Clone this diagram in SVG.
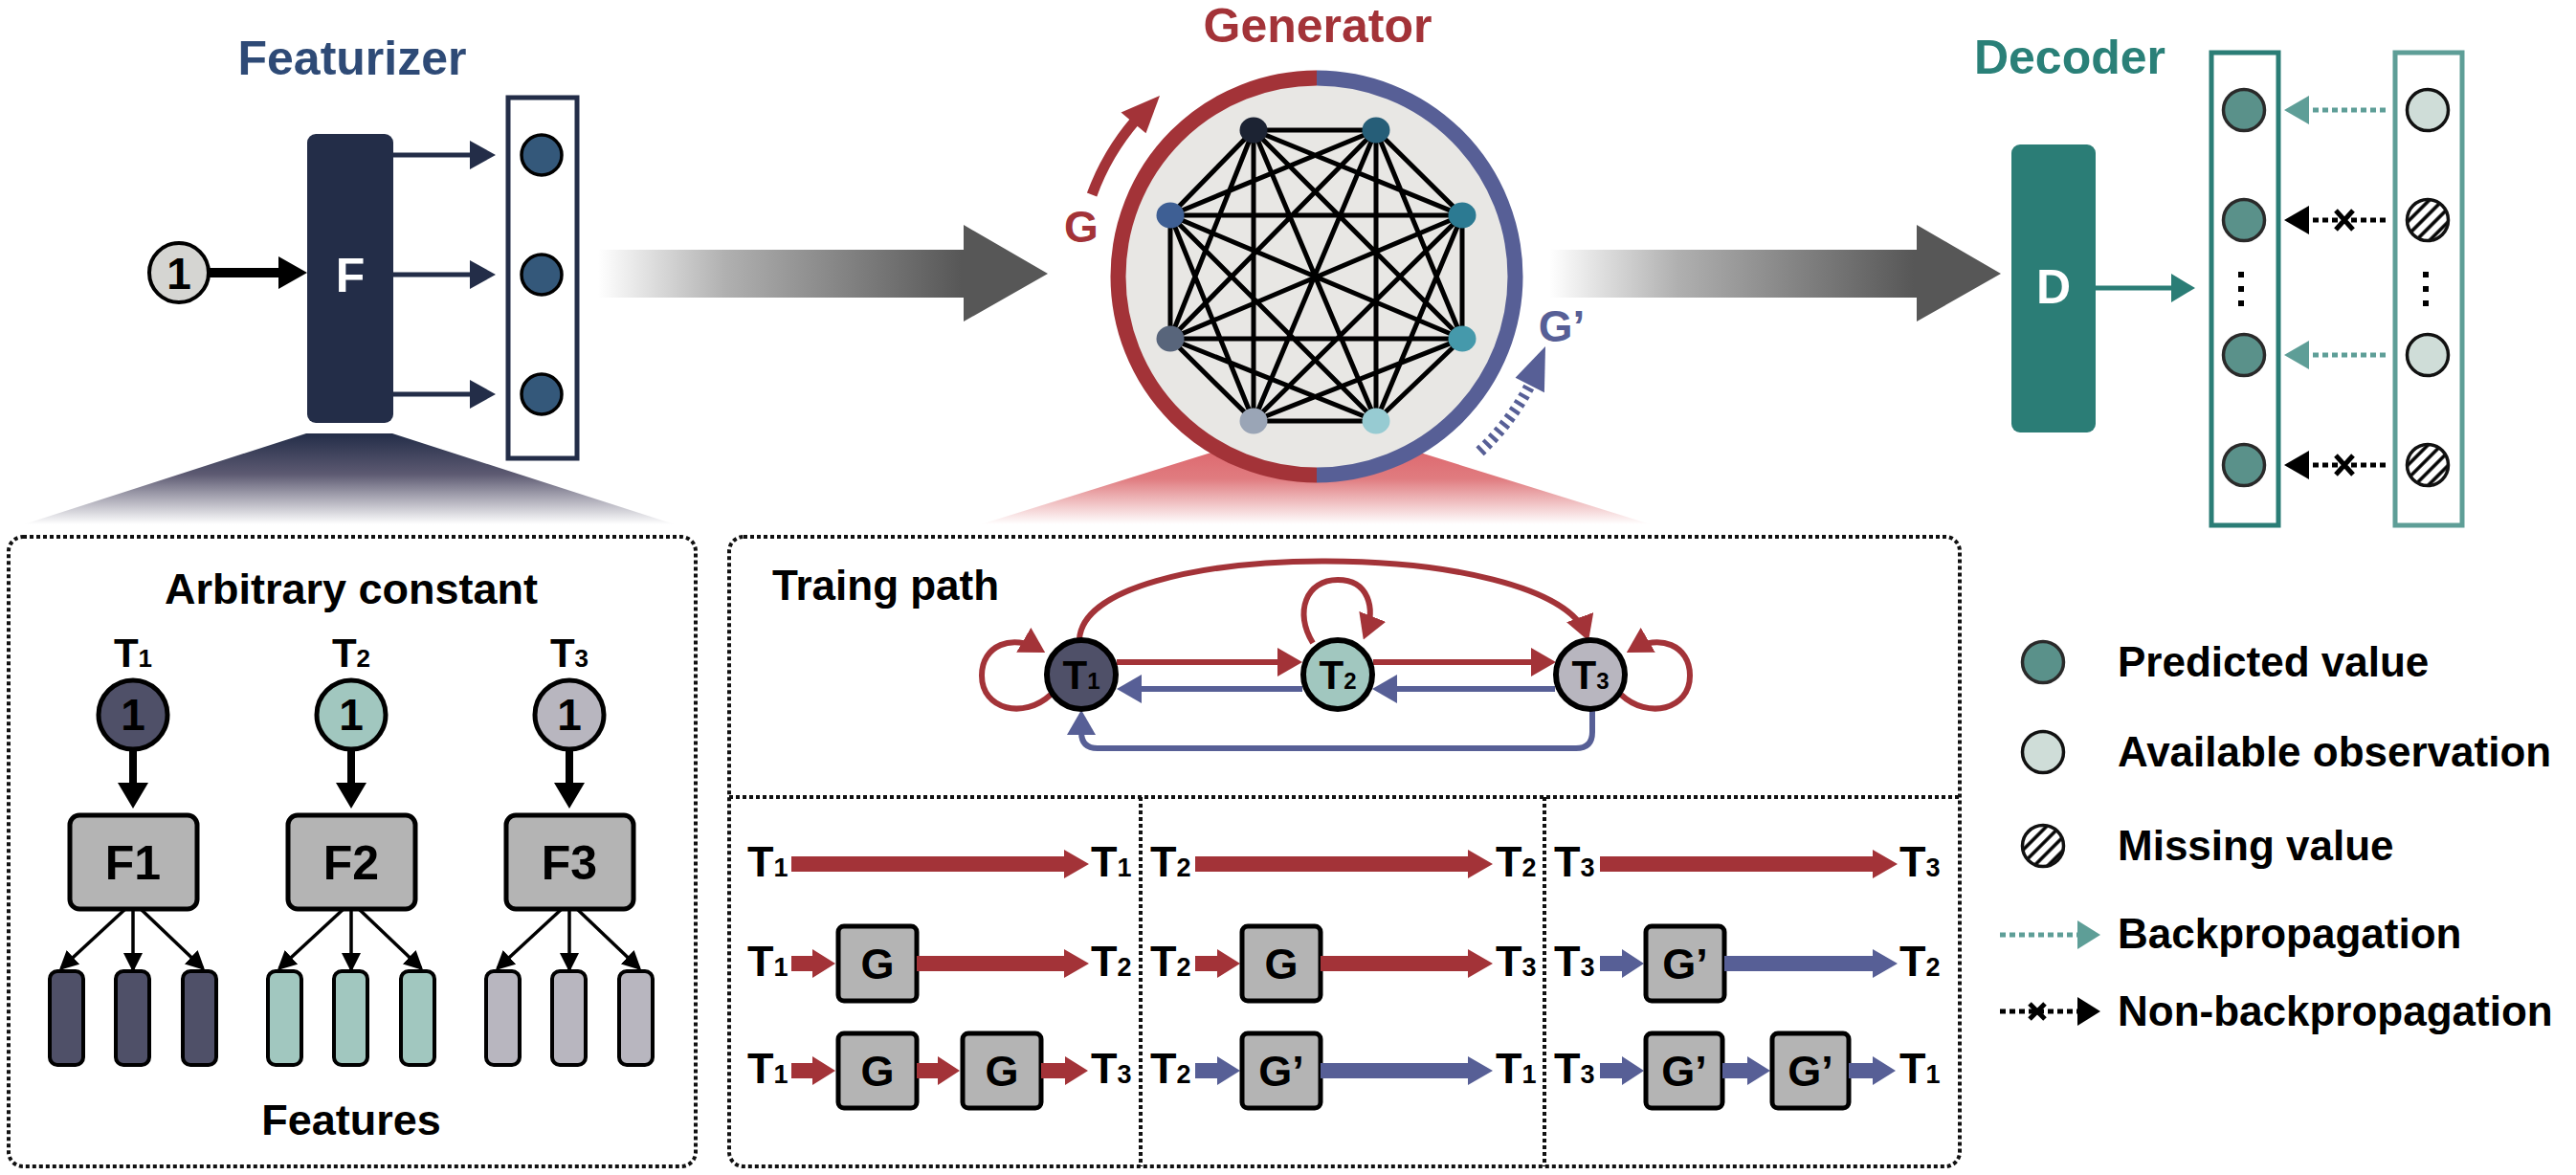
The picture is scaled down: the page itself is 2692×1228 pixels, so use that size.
<svg xmlns="http://www.w3.org/2000/svg" width="2692" height="1228" viewBox="0 0 2692 1228">
<defs>
<style>
.t{font-family:"Liberation Sans",Arial,Helvetica,sans-serif;font-weight:bold;}
.dash{fill:none;stroke:#111;stroke-width:4;stroke-dasharray:4 3;}
.gbox{fill:#b4b4b4;stroke:#000;stroke-width:5;}
.red{fill:#a33338;}
.blue{fill:#575f96;}
.navy{fill:#232d48;}
.teal{fill:#2b7d76;}
.pred{fill:#5a918a;stroke:#2a2a2a;stroke-width:3.5;}
.avail{fill:#cfddd8;stroke:#111;stroke-width:3.5;}
.miss{fill:url(#hatch);stroke:#111;stroke-width:3.5;}
.fnode{fill:#34587a;stroke:#000;stroke-width:3.5;}
.thinarrow{fill:none;stroke:#000;stroke-width:3.5;marker-end:url(#mk-black);}
.rline{fill:none;stroke:#a33338;stroke-width:6;marker-end:url(#mk-red);}
.bline{fill:none;stroke:#575f96;stroke-width:6;marker-end:url(#mk-blue);}
.tdot{fill:none;stroke:#5e9e97;stroke-width:5;stroke-dasharray:6 4;}
.kdot{fill:none;stroke:#000;stroke-width:5;stroke-dasharray:6 4;}
</style>
<marker id="mk-black" viewBox="0 0 20 20" markerUnits="userSpaceOnUse" markerWidth="20" markerHeight="20" refX="17" refY="10" orient="auto"><path d="M0,0 L20,10 L0,20 z" fill="#000"/></marker>
<marker id="mk-red" viewBox="0 0 26 30" markerUnits="userSpaceOnUse" markerWidth="26" markerHeight="30" refX="20" refY="15" orient="auto"><path d="M0,0 L26,15 L0,30 z" fill="#a33338"/></marker>
<marker id="mk-blue" viewBox="0 0 26 30" markerUnits="userSpaceOnUse" markerWidth="26" markerHeight="30" refX="20" refY="15" orient="auto"><path d="M0,0 L26,15 L0,30 z" fill="#575f96"/></marker>
<pattern id="hatch" width="10" height="10" patternUnits="userSpaceOnUse" patternTransform="rotate(45)"><rect width="10" height="10" fill="#fff"/><line x1="3" y1="0" x2="3" y2="10" stroke="#000" stroke-width="3.5"/></pattern>
<linearGradient id="gArrow1" gradientUnits="userSpaceOnUse" x1="625" y1="0" x2="1005" y2="0"><stop offset="0" stop-color="#ffffff"/><stop offset="0.35" stop-color="#b0b0b0"/><stop offset="1" stop-color="#575757"/></linearGradient>
<linearGradient id="gArrow2" gradientUnits="userSpaceOnUse" x1="1619" y1="0" x2="2000" y2="0"><stop offset="0" stop-color="#ffffff"/><stop offset="0.35" stop-color="#b0b0b0"/><stop offset="1" stop-color="#575757"/></linearGradient>
<linearGradient id="gTrapNavy" x1="0" y1="0" x2="0" y2="1"><stop offset="0" stop-color="#232d48"/><stop offset="0.45" stop-color="#5d5a72"/><stop offset="1" stop-color="#ffffff"/></linearGradient>
<linearGradient id="gTrapRed" x1="0" y1="0" x2="0" y2="1"><stop offset="0" stop-color="#dc5d64"/><stop offset="0.5" stop-color="#e07c80"/><stop offset="1" stop-color="#ffffff"/></linearGradient>
</defs>
<rect width="2692" height="1228" fill="#fff"/>

<g id="zoom-featurizer"><polygon points="320,453 410,453 705,548 25,548" fill="url(#gTrapNavy)"/></g>
<g id="zoom-generator"><polygon points="1330,453 1420,453 1725,548 1025,548" fill="url(#gTrapRed)"/></g>

<g id="flow-arrows">
<polygon points="625,261 1007,261 1007,235 1095,286 1007,336 1007,311 625,311" fill="url(#gArrow1)"/>
<polygon points="1619,261 2003,261 2003,235 2091,286 2003,336 2003,311 1619,311" fill="url(#gArrow2)"/>
</g>

<g id="featurizer-title"><text class="t" x="368" y="78" font-size="50" text-anchor="middle" fill="#2e4a76">Featurizer</text></g>
<g id="input-one">
<circle cx="187" cy="285" r="31" fill="#d5d5d2" stroke="#000" stroke-width="4"/>
<text class="t" x="187" y="302" font-size="46" text-anchor="middle" fill="#000">1</text>
</g>
<g id="featurizer-F">
<rect x="321" y="140" width="90" height="302" rx="9" class="navy"/>
<text class="t" x="366" y="305" font-size="50" text-anchor="middle" fill="#fff">F</text>
</g>
<g id="feature-vector">
<rect x="531" y="102" width="72" height="377" fill="none" stroke="#232d48" stroke-width="5"/>
<circle cx="566" cy="162" r="21" class="fnode"/>
<circle cx="566" cy="287" r="21" class="fnode"/>
<circle cx="566" cy="412" r="21" class="fnode"/>
</g>

<g id="generator-title"><text class="t" x="1377" y="44" font-size="50" text-anchor="middle" fill="#a33338">Generator</text></g>
<g id="generator">
<circle cx="1376" cy="289" r="203" fill="#e8e7e4"/>
<path d="M1376,81.5 A207.5,207.5 0 0 0 1376,496.5" fill="none" stroke="#a33338" stroke-width="16"/>
<path d="M1376,81.5 A207.5,207.5 0 0 1 1376,496.5" fill="none" stroke="#575f96" stroke-width="16"/>
<path d="M1310 136L1438 136M1310 136L1528 225M1310 136L1528 354M1310 136L1438 440M1310 136L1310 440M1310 136L1223 354M1310 136L1223 225M1438 136L1528 225M1438 136L1528 354M1438 136L1438 440M1438 136L1310 440M1438 136L1223 354M1438 136L1223 225M1528 225L1528 354M1528 225L1438 440M1528 225L1310 440M1528 225L1223 354M1528 225L1223 225M1528 354L1438 440M1528 354L1310 440M1528 354L1223 354M1528 354L1223 225M1438 440L1310 440M1438 440L1223 354M1438 440L1223 225M1310 440L1223 354M1310 440L1223 225M1223 354L1223 225" fill="none" stroke="#000" stroke-width="5"/>
<ellipse cx="1310" cy="136" rx="14.5" ry="13.5" fill="#1c2333"/>
<ellipse cx="1438" cy="136" rx="14.5" ry="13.5" fill="#265e78"/>
<ellipse cx="1223" cy="225" rx="14.5" ry="13.5" fill="#3e5f94"/>
<ellipse cx="1528" cy="225" rx="14.5" ry="13.5" fill="#2c7a92"/>
<ellipse cx="1223" cy="354" rx="14.5" ry="13.5" fill="#58657b"/>
<ellipse cx="1528" cy="354" rx="14.5" ry="13.5" fill="#4599ab"/>
<ellipse cx="1310" cy="440" rx="14.5" ry="13.5" fill="#9aa5b6"/>
<ellipse cx="1438" cy="440" rx="14.5" ry="13.5" fill="#97cbd2"/>
</g>
<g id="G-direction">
<path d="M1141.1,203.5 A250,250 0 0 1 1187.3,125" fill="none" stroke="#a33338" stroke-width="11"/>
<polygon points="1212,100 1171.5,117.4 1197.5,139.2" class="red"/>
<text class="t" x="1130" y="253" font-size="46" text-anchor="middle" fill="#a33338">G</text>
</g>
<g id="Gprime-direction">
<path d="M1546.5,471.8 A250,250 0 0 0 1600.7,398.6" fill="none" stroke="#575f96" stroke-width="12" stroke-dasharray="4 5"/>
<polygon points="1615,362 1583.6,394.8 1613.9,410.2" class="blue"/>
<text class="t" x="1632" y="357" font-size="46" text-anchor="middle" fill="#575f96">G’</text>
</g>

<g id="decoder-title"><text class="t" x="2163" y="77" font-size="50" text-anchor="middle" fill="#2a8078">Decoder</text></g>
<g id="decoder-D">
<rect x="2102" y="151" width="88" height="301" rx="9" class="teal"/>
<text class="t" x="2146" y="317" font-size="50" text-anchor="middle" fill="#fff">D</text>
</g>
<g id="predicted-vector">
<rect x="2311" y="55" width="70" height="494" fill="none" stroke="#2b7d76" stroke-width="5"/>
<circle cx="2345" cy="115" r="21.5" class="pred"/>
<circle cx="2345" cy="230" r="21.5" class="pred"/>
<circle cx="2345" cy="371" r="21.5" class="pred"/>
<circle cx="2345" cy="486" r="21.5" class="pred"/>
<rect x="2339" y="284" width="6" height="6" fill="#000"/>
<rect x="2339" y="299" width="6" height="6" fill="#000"/>
<rect x="2339" y="314" width="6" height="6" fill="#000"/>
</g>
<g id="observed-vector">
<rect x="2503" y="55" width="70" height="494" fill="none" stroke="#5e9e97" stroke-width="5"/>
<circle cx="2537" cy="115" r="21.5" class="avail"/>
<circle cx="2537" cy="230" r="21.5" class="miss"/>
<circle cx="2537" cy="371" r="21.5" class="avail"/>
<circle cx="2537" cy="486" r="21.5" class="miss"/>
<rect x="2532" y="284" width="6" height="6" fill="#000"/>
<rect x="2532" y="299" width="6" height="6" fill="#000"/>
<rect x="2532" y="314" width="6" height="6" fill="#000"/>
</g>

<g id="connectors">
<polygon points="219,280 291,280 291,268 321,285 291,302 291,290 219,290" fill="#000"/>
<polygon points="411,159.5 491,159.5 491,147 518,162 491,177 491,164.5 411,164.5" class="navy"/>
<polygon points="411,284.5 491,284.5 491,272 518,287 491,302 491,289.5 411,289.5" class="navy"/>
<polygon points="411,409.5 491,409.5 491,397 518,412 491,427 491,414.5 411,414.5" class="navy"/>
<polygon points="2190,298.5 2269,298.5 2269,286 2294,301 2269,316 2269,303.5 2190,303.5" class="teal"/>
<line x1="2493" y1="115" x2="2413" y2="115" class="tdot"/>
<polygon points="2413,100 2387,115 2413,130" fill="#5e9e97"/>
<line x1="2493" y1="371" x2="2413" y2="371" class="tdot"/>
<polygon points="2413,356 2387,371 2413,386" fill="#5e9e97"/>
<line x1="2493" y1="230" x2="2413" y2="230" class="kdot"/>
<path d="M2441,220 L2459,240 M2459,220 L2441,240" stroke="#000" stroke-width="5"/>
<polygon points="2413,215 2387,230 2413,245" fill="#000"/>
<line x1="2493" y1="486" x2="2413" y2="486" class="kdot"/>
<path d="M2441,476 L2459,496 M2459,476 L2441,496" stroke="#000" stroke-width="5"/>
<polygon points="2413,471 2387,486 2413,501" fill="#000"/>
</g>

<g id="arbitrary-constant-panel">
<rect x="9" y="561" width="718" height="658" rx="15" class="dash"/>
<text class="t" x="367" y="631" font-size="45" text-anchor="middle" fill="#000">Arbitrary constant</text>
<text class="t" x="367" y="1186" font-size="45" text-anchor="middle" fill="#000">Features</text>
</g>
<g id="T1-constant">
<text class="t" x="139" y="697" font-size="42" text-anchor="middle" fill="#000">T<tspan font-size="26">1</tspan></text>
<circle cx="139" cy="747" r="36" fill="#4f5068" stroke="#000" stroke-width="5"/>
<text class="t" x="139" y="763" font-size="46" text-anchor="middle" fill="#000">1</text>
<polygon points="135,783 143,783 143,818 155,818 139,845 123,818 135,818" fill="#000"/>
<rect x="73" y="852" width="133" height="98" rx="10" class="gbox"/>
<text class="t" x="139" y="919" font-size="50" text-anchor="middle" fill="#000">F1</text>
<line x1="131" y1="950" x2="64" y2="1012" class="thinarrow"/>
<line x1="139" y1="950" x2="139" y2="1013" class="thinarrow"/>
<line x1="147" y1="950" x2="212" y2="1012" class="thinarrow"/>
<rect x="52" y="1015" width="35" height="98" rx="8" fill="#4f5068" stroke="#000" stroke-width="4"/>
<rect x="121" y="1015" width="35" height="98" rx="8" fill="#4f5068" stroke="#000" stroke-width="4"/>
<rect x="191" y="1015" width="35" height="98" rx="8" fill="#4f5068" stroke="#000" stroke-width="4"/>
</g>
<g id="T2-constant">
<text class="t" x="367" y="697" font-size="42" text-anchor="middle" fill="#000">T<tspan font-size="26">2</tspan></text>
<circle cx="367" cy="747" r="36" fill="#a1c7bf" stroke="#000" stroke-width="5"/>
<text class="t" x="367" y="763" font-size="46" text-anchor="middle" fill="#000">1</text>
<polygon points="363,783 371,783 371,818 383,818 367,845 351,818 363,818" fill="#000"/>
<rect x="301" y="852" width="133" height="98" rx="10" class="gbox"/>
<text class="t" x="367" y="919" font-size="50" text-anchor="middle" fill="#000">F2</text>
<line x1="359" y1="950" x2="292" y2="1012" class="thinarrow"/>
<line x1="367" y1="950" x2="367" y2="1013" class="thinarrow"/>
<line x1="375" y1="950" x2="440" y2="1012" class="thinarrow"/>
<rect x="280" y="1015" width="35" height="98" rx="8" fill="#a1c7bf" stroke="#000" stroke-width="4"/>
<rect x="349" y="1015" width="35" height="98" rx="8" fill="#a1c7bf" stroke="#000" stroke-width="4"/>
<rect x="419" y="1015" width="35" height="98" rx="8" fill="#a1c7bf" stroke="#000" stroke-width="4"/>
</g>
<g id="T3-constant">
<text class="t" x="595" y="697" font-size="42" text-anchor="middle" fill="#000">T<tspan font-size="26">3</tspan></text>
<circle cx="595" cy="747" r="36" fill="#b8b6bf" stroke="#000" stroke-width="5"/>
<text class="t" x="595" y="763" font-size="46" text-anchor="middle" fill="#000">1</text>
<polygon points="591,783 599,783 599,818 611,818 595,845 579,818 591,818" fill="#000"/>
<rect x="529" y="852" width="133" height="98" rx="10" class="gbox"/>
<text class="t" x="595" y="919" font-size="50" text-anchor="middle" fill="#000">F3</text>
<line x1="587" y1="950" x2="520" y2="1012" class="thinarrow"/>
<line x1="595" y1="950" x2="595" y2="1013" class="thinarrow"/>
<line x1="603" y1="950" x2="668" y2="1012" class="thinarrow"/>
<rect x="508" y="1015" width="35" height="98" rx="8" fill="#b8b6bf" stroke="#000" stroke-width="4"/>
<rect x="577" y="1015" width="35" height="98" rx="8" fill="#b8b6bf" stroke="#000" stroke-width="4"/>
<rect x="647" y="1015" width="35" height="98" rx="8" fill="#b8b6bf" stroke="#000" stroke-width="4"/>
</g>

<g id="training-path-panel">
<rect x="762" y="561" width="1286" height="658" rx="15" class="dash"/>
<line x1="762" y1="833" x2="2048" y2="833" class="dash"/>
<line x1="1192" y1="833" x2="1192" y2="1219" class="dash"/>
<line x1="1614" y1="833" x2="1614" y2="1219" class="dash"/>
<text class="t" x="807" y="627" font-size="44" fill="#000">Traing path</text>
</g>
<g id="training-connectors">
<path d="M1128,668 C1135,560 1620,560 1658,664" class="rline"/>
<path d="M1098,726 C1070,752 1026,742 1026,706 C1026,674 1058,662 1087,679" class="rline"/>
<path d="M1694,726 C1722,752 1766,742 1766,706 C1766,674 1734,662 1705,679" class="rline"/>
<path d="M1372,672 C1352,640 1365,606 1398,606 C1430,606 1438,635 1427,663" class="rline"/>
<path d="M1167,692 L1355,692" class="rline"/>
<path d="M1435,692 L1620,692" class="rline"/>
<path d="M1361,720 L1173,720" class="bline"/>
<path d="M1625,720 L1440,720" class="bline"/>
<path d="M1664,743 L1664,765 Q1664,782 1647,782 L1147,782 Q1130,782 1130,765 L1130,748" class="bline"/>
</g>
<g id="node-T1">
<circle cx="1130" cy="705" r="36" fill="#4f5068" stroke="#000" stroke-width="6"/>
<text class="t" x="1130" y="720" font-size="42" text-anchor="middle" fill="#000">T<tspan font-size="24">1</tspan></text>
</g>
<g id="node-T2">
<circle cx="1398" cy="705" r="36" fill="#a1c7bf" stroke="#000" stroke-width="6"/>
<text class="t" x="1398" y="720" font-size="42" text-anchor="middle" fill="#000">T<tspan font-size="24">2</tspan></text>
</g>
<g id="node-T3">
<circle cx="1662" cy="705" r="36" fill="#b8b6bf" stroke="#000" stroke-width="6"/>
<text class="t" x="1662" y="720" font-size="42" text-anchor="middle" fill="#000">T<tspan font-size="24">3</tspan></text>
</g>

<g id="path-rows">
<g id="row1" class="t" font-size="45" fill="#000">
<text x="781" y="916">T<tspan font-size="27">1</tspan></text>
<polygon points="827,895 1112,895 1112,888 1138,903 1112,918 1112,911 827,911" class="red"/>
<text x="1140" y="916">T<tspan font-size="27">1</tspan></text>
<text x="1202" y="916">T<tspan font-size="27">2</tspan></text>
<polygon points="1249,895 1534,895 1534,888 1560,903 1534,918 1534,911 1249,911" class="red"/>
<text x="1563" y="916">T<tspan font-size="27">2</tspan></text>
<text x="1624" y="916">T<tspan font-size="27">3</tspan></text>
<polygon points="1672,895 1957,895 1957,888 1983,903 1957,918 1957,911 1672,911" class="red"/>
<text x="1985" y="916">T<tspan font-size="27">3</tspan></text>
</g>
<g id="row2" class="t" font-size="45" fill="#000">
<text x="781" y="1020">T<tspan font-size="27">1</tspan></text>
<polygon points="827,999 849,999 849,992 873,1007 849,1022 849,1015 827,1015" class="red"/>
<rect x="876" y="968" width="82" height="78" rx="6" class="gbox"/>
<text x="917" y="1023" text-anchor="middle" font-size="45">G</text>
<polygon points="958,999 1112,999 1112,992 1138,1007 1112,1022 1112,1015 958,1015" class="red"/>
<text x="1140" y="1020">T<tspan font-size="27">2</tspan></text>
<text x="1202" y="1020">T<tspan font-size="27">2</tspan></text>
<polygon points="1249,999 1272,999 1272,992 1296,1007 1272,1022 1272,1015 1249,1015" class="red"/>
<rect x="1298" y="968" width="82" height="78" rx="6" class="gbox"/>
<text x="1339" y="1023" text-anchor="middle" font-size="45">G</text>
<polygon points="1380,999 1534,999 1534,992 1560,1007 1534,1022 1534,1015 1380,1015" class="red"/>
<text x="1563" y="1020">T<tspan font-size="27">3</tspan></text>
<text x="1624" y="1020">T<tspan font-size="27">3</tspan></text>
<polygon points="1672,999 1695,999 1695,992 1718,1007 1695,1022 1695,1015 1672,1015" class="blue"/>
<rect x="1720" y="968" width="82" height="78" rx="6" class="gbox"/>
<text x="1761" y="1023" text-anchor="middle" font-size="45">G’</text>
<polygon points="1802,999 1957,999 1957,992 1983,1007 1957,1022 1957,1015 1802,1015" class="blue"/>
<text x="1985" y="1020">T<tspan font-size="27">2</tspan></text>
</g>
<g id="row3" class="t" font-size="45" fill="#000">
<text x="781" y="1132">T<tspan font-size="27">1</tspan></text>
<polygon points="827,1111 849,1111 849,1104 873,1119 849,1134 849,1127 827,1127" class="red"/>
<rect x="876" y="1080" width="82" height="78" rx="6" class="gbox"/>
<text x="917" y="1135" text-anchor="middle" font-size="45">G</text>
<polygon points="958,1111 980,1111 980,1104 1003,1119 980,1134 980,1127 958,1127" class="red"/>
<rect x="1006" y="1080" width="82" height="78" rx="6" class="gbox"/>
<text x="1047" y="1135" text-anchor="middle" font-size="45">G</text>
<polygon points="1088,1111 1113,1111 1113,1104 1137,1119 1113,1134 1113,1127 1088,1127" class="red"/>
<text x="1140" y="1132">T<tspan font-size="27">3</tspan></text>
<text x="1202" y="1132">T<tspan font-size="27">2</tspan></text>
<polygon points="1249,1111 1272,1111 1272,1104 1296,1119 1272,1134 1272,1127 1249,1127" class="blue"/>
<rect x="1298" y="1080" width="82" height="78" rx="6" class="gbox"/>
<text x="1339" y="1135" text-anchor="middle" font-size="45">G’</text>
<polygon points="1380,1111 1534,1111 1534,1104 1560,1119 1534,1134 1534,1127 1380,1127" class="blue"/>
<text x="1563" y="1132">T<tspan font-size="27">1</tspan></text>
<text x="1624" y="1132">T<tspan font-size="27">3</tspan></text>
<polygon points="1672,1111 1695,1111 1695,1104 1718,1119 1695,1134 1695,1127 1672,1127" class="blue"/>
<rect x="1720" y="1080" width="80" height="78" rx="6" class="gbox"/>
<text x="1760" y="1135" text-anchor="middle" font-size="45">G’</text>
<polygon points="1800,1111 1826,1111 1826,1104 1850,1119 1826,1134 1826,1127 1800,1127" class="blue"/>
<rect x="1852" y="1080" width="80" height="78" rx="6" class="gbox"/>
<text x="1892" y="1135" text-anchor="middle" font-size="45">G’</text>
<polygon points="1932,1111 1957,1111 1957,1104 1981,1119 1957,1134 1957,1127 1932,1127" class="blue"/>
<text x="1985" y="1132">T<tspan font-size="27">1</tspan></text>
</g>
</g>

<g id="legend" class="t" font-size="44" fill="#000">
<g id="legend-predicted"><circle cx="2135" cy="692" r="21.5" class="pred"/><text x="2213" y="707">Predicted value</text></g>
<g id="legend-available"><circle cx="2135" cy="786" r="21.5" class="avail"/><text x="2213" y="801">Available observation</text></g>
<g id="legend-missing"><circle cx="2135" cy="884" r="21.5" class="miss"/><text x="2213" y="899">Missing value</text></g>
<g id="legend-backprop"><line x1="2090" y1="977" x2="2171" y2="977" class="tdot"/><polygon points="2171,962 2195,977 2171,992" fill="#5e9e97"/><text x="2213" y="991">Backpropagation</text></g>
<g id="legend-nonbackprop"><line x1="2090" y1="1057" x2="2171" y2="1057" class="kdot"/><path d="M2121,1049 L2137,1065 M2137,1049 L2121,1065" stroke="#000" stroke-width="5"/><polygon points="2171,1042 2195,1057 2171,1072" fill="#000"/><text x="2213" y="1072">Non-backpropagation</text></g>
</g>
</svg>
